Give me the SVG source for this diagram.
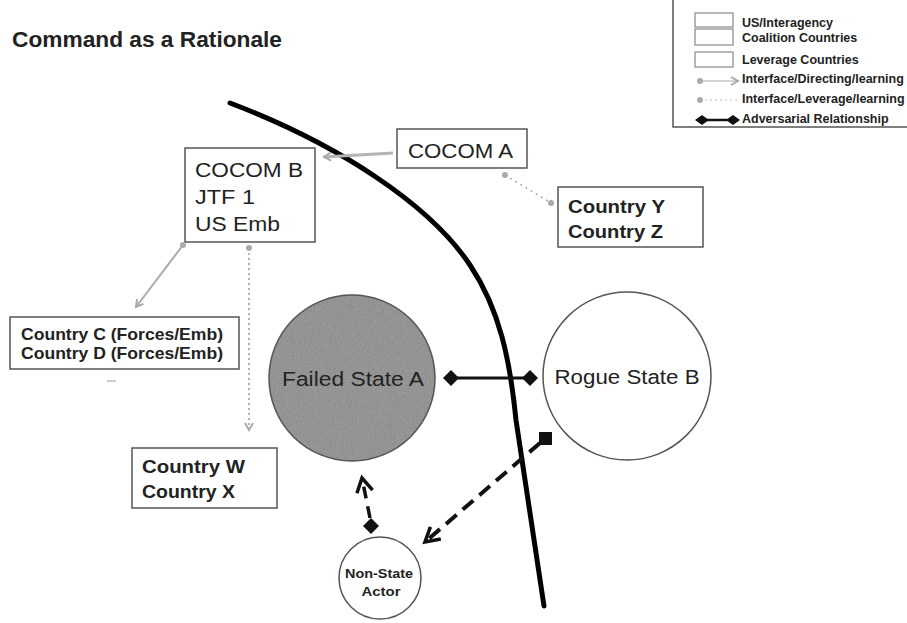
<svg xmlns="http://www.w3.org/2000/svg" width="907" height="623" viewBox="0 0 907 623">
  <style>
    .box { fill: #fff; stroke: #555; stroke-width: 1.5; }
    .lbox { fill: #fff; stroke: #888; stroke-width: 1.2; }
    .t { font-family: "Liberation Sans", Arial, sans-serif; fill: #222; }
    .b { font-weight: bold; }
    .adv { stroke: #111; stroke-width: 3; fill: none; }
    .dash { stroke: #111; stroke-width: 4; fill: none; stroke-dasharray: 14 8; }
  </style>
  <defs>
    <marker id="garrow" markerWidth="10" markerHeight="10" refX="8" refY="5" orient="auto" markerUnits="userSpaceOnUse">
      <path d="M1,1 L8,5 L1,9" fill="none" stroke="#aaa" stroke-width="2"/>
    </marker>
    <marker id="gdot" markerWidth="8" markerHeight="8" refX="4" refY="4" markerUnits="userSpaceOnUse">
      <circle cx="4" cy="4" r="3" fill="#aaa"/>
    </marker>
    <marker id="barrow" markerWidth="22" markerHeight="22" refX="18" refY="11" orient="auto" markerUnits="userSpaceOnUse">
      <path d="M4,3 L18,11 L4,19" fill="none" stroke="#111" stroke-width="3.5"/>
    </marker>
    <filter id="grain" x="0" y="0" width="100%" height="100%">
      <feTurbulence type="fractalNoise" baseFrequency="0.9" numOctaves="2" seed="3" result="n"/>
      <feColorMatrix in="n" type="saturate" values="0" result="g"/>
      <feComposite in="g" in2="SourceGraphic" operator="in"/>
    </filter>
  </defs>

  <rect width="907" height="623" fill="#fff"/>

  <!-- title -->
  <text class="t b" x="12" y="47" font-size="22" textLength="270" lengthAdjust="spacingAndGlyphs">Command as a Rationale</text>

  <!-- legend -->
  <g id="legend">
    <rect x="673" y="-2" width="240" height="129" fill="#fff" stroke="#555" stroke-width="1.5"/>
    <rect class="lbox" x="695" y="13" width="38" height="14"/>
    <rect class="lbox" x="695" y="29" width="38" height="16"/>
    <rect class="lbox" x="695" y="52" width="38" height="15"/>
    <line x1="700" y1="81" x2="738" y2="81" stroke="#aaa" stroke-width="1.2" marker-start="url(#gdot)" marker-end="url(#garrow)"/>
    <line x1="700" y1="100" x2="740" y2="100" stroke="#bbb" stroke-width="1" stroke-dasharray="2 3" marker-start="url(#gdot)"/>
    <line x1="702" y1="120" x2="733" y2="120" stroke="#111" stroke-width="2.5"/>
    <path d="M695,120 L702,115 L709,120 L702,125 Z" fill="#111"/>
    <path d="M726,120 L733,115 L740,120 L733,125 Z" fill="#111"/>
    <g class="t b" font-size="12.5">
      <text x="742" y="27">US/Interagency</text>
      <text x="742" y="42">Coalition Countries</text>
      <text x="742" y="64">Leverage Countries</text>
      <text x="742" y="83">Interface/Directing/learning</text>
      <text x="742" y="103">Interface/Leverage/learning</text>
      <text x="742" y="123">Adversarial Relationship</text>
    </g>
  </g>

  <!-- boundary curve -->
  <path id="boundary" d="M230,103 C340,145 430,205 470,265 C500,310 510,360 516,420 L544,606" fill="none" stroke="#000" stroke-width="5" stroke-linecap="round"/>

  <!-- nodes -->
  <g id="cocom-a">
    <rect class="box" x="397" y="129" width="130" height="39"/>
    <text class="t" x="408" y="158" font-size="20" textLength="105" lengthAdjust="spacingAndGlyphs">COCOM A</text>
  </g>

  <g id="cocom-b">
    <rect class="box" x="185" y="148" width="130" height="94"/>
    <text class="t" x="195" y="177" font-size="20" textLength="108" lengthAdjust="spacingAndGlyphs">COCOM B</text>
    <text class="t" x="195" y="204" font-size="20" textLength="60" lengthAdjust="spacingAndGlyphs">JTF 1</text>
    <text class="t" x="195" y="231" font-size="20" textLength="85" lengthAdjust="spacingAndGlyphs">US Emb</text>
  </g>

  <g id="country-yz">
    <rect class="box" x="558" y="187" width="145" height="60"/>
    <text class="t b" x="568" y="213" font-size="19" textLength="97" lengthAdjust="spacingAndGlyphs">Country Y</text>
    <text class="t b" x="568" y="238" font-size="19" textLength="95" lengthAdjust="spacingAndGlyphs">Country Z</text>
  </g>

  <g id="country-cd">
    <rect class="box" x="10" y="317" width="229" height="52"/>
    <text class="t b" x="21" y="340" font-size="17" textLength="202" lengthAdjust="spacingAndGlyphs">Country C (Forces/Emb)</text>
    <text class="t b" x="21" y="359" font-size="17" textLength="202" lengthAdjust="spacingAndGlyphs">Country D (Forces/Emb)</text>
  </g>

  <g id="country-wx">
    <rect class="box" x="132" y="448" width="145" height="60"/>
    <text class="t b" x="142" y="473" font-size="19" textLength="103" lengthAdjust="spacingAndGlyphs">Country W</text>
    <text class="t b" x="142" y="498" font-size="19" textLength="93" lengthAdjust="spacingAndGlyphs">Country X</text>
  </g>

  <g id="failed-state-a">
    <circle cx="352" cy="378" r="83" fill="#8a8a8a" stroke="#555" stroke-width="1.5"/>
    <circle cx="352" cy="378" r="82" fill="#8a8a8a" filter="url(#grain)" opacity="0.4"/>
    <text class="t" x="353" y="386" font-size="20" text-anchor="middle" textLength="142" lengthAdjust="spacingAndGlyphs" fill="#1a1a1a">Failed State A</text>
  </g>

  <g id="rogue-state-b">
    <circle cx="627" cy="376" r="84" fill="#fff" stroke="#555" stroke-width="1.5"/>
    <text class="t" x="627" y="384" font-size="20" text-anchor="middle" textLength="145" lengthAdjust="spacingAndGlyphs">Rogue State B</text>
  </g>

  <g id="non-state-actor">
    <circle cx="380" cy="578" r="41" fill="#fff" stroke="#555" stroke-width="1.5"/>
    <text class="t b" x="379" y="578" font-size="13.5" text-anchor="middle" textLength="68" lengthAdjust="spacingAndGlyphs">Non-State</text>
    <text class="t b" x="381" y="596" font-size="13.5" text-anchor="middle" textLength="39" lengthAdjust="spacingAndGlyphs">Actor</text>
  </g>

  <!-- connectors -->
  <g id="connectors">
    <!-- COCOM A to COCOM B -->
    <line x1="393" y1="153" x2="324" y2="157" stroke="#b5b5b5" stroke-width="3" marker-end="url(#garrow)"/>
    <!-- COCOM A to Country Y/Z -->
    <line x1="505" y1="175" x2="551" y2="203" stroke="#aaa" stroke-width="1.5" stroke-dasharray="2 4" marker-start="url(#gdot)" marker-end="url(#gdot)"/>
    <!-- COCOM B to Country C/D -->
    <line x1="183" y1="245" x2="136" y2="307" stroke="#aaa" stroke-width="2" marker-start="url(#gdot)" marker-end="url(#garrow)"/>
    <!-- COCOM B to Country W/X -->
    <line x1="249" y1="248" x2="249" y2="430" stroke="#999" stroke-width="1.5" stroke-dasharray="2 3" marker-start="url(#gdot)" marker-end="url(#garrow)"/>
    <line x1="107" y1="381" x2="116" y2="381" stroke="#bbb" stroke-width="1.5"/>
    <!-- Failed State A / Rogue State B -->
    <line class="adv" x1="451" y1="378" x2="530" y2="378"/>
    <path d="M443,378 L451,370 L459,378 L451,386 Z" fill="#111"/>
    <path d="M522,378 L530,370 L538,378 L530,386 Z" fill="#111"/>
    <!-- Rogue State B to Non-State Actor -->
    <rect x="539" y="432" width="13" height="13" fill="#111"/>
    <path class="dash" d="M540,443 L425,542" marker-end="url(#barrow)"/>
    <!-- Non-State Actor to Failed State A -->
    <path d="M363,526 L371,518 L379,526 L371,534 Z" fill="#111"/>
    <path d="M370,518 L362,478" stroke="#111" stroke-width="3.5" fill="none" stroke-dasharray="12 8" marker-end="url(#barrow)"/>
  </g>
</svg>
